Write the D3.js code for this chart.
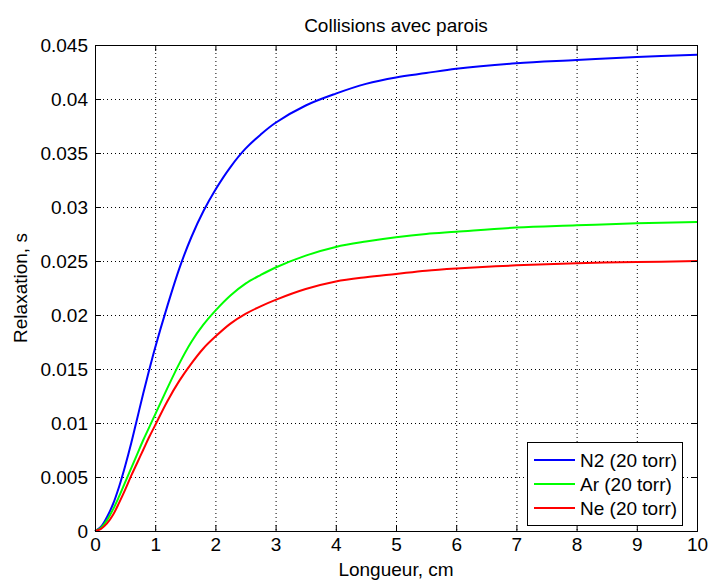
<!DOCTYPE html>
<html>
<head>
<meta charset="utf-8">
<script src="https://cdn.jsdelivr.net/npm/d3@7"></script>
<style>
  body { margin: 0; background: #fff; }
  svg { display: block; font-family: 'Liberation Sans', Arial, sans-serif; }
  .axis path, .axis line { stroke: #000; }
  .grid line { stroke: #000; stroke-dasharray: 1,3; }
</style>
</head>
<body>
<svg id="chart" width="710" height="581"></svg>
<script>
// distances (cm)
var longueur = [0, 0.1, 0.2, 0.3, 0.4, 0.5, 0.6, 0.7, 0.8, 0.9, 1.0, 1.2, 1.4, 1.6, 1.8, 2.0,
  2.25, 2.5, 2.75, 3.0, 3.5, 4, 4.5, 5, 5.5, 6, 7, 8, 9, 10];
// relaxation time (s) for each gas
var n2 = [0, 0.0004, 0.0013, 0.0025, 0.0041, 0.0060, 0.0081, 0.0104, 0.0127, 0.0149, 0.0170,
  0.0208, 0.0243, 0.0272, 0.0296, 0.0316, 0.0337, 0.0354, 0.0367, 0.0378, 0.0394, 0.0405,
  0.0414, 0.0420, 0.0424, 0.0428, 0.0433, 0.0436, 0.0439, 0.0441];
var ar = [0, 0.0003, 0.0010, 0.0020, 0.0032, 0.0045, 0.0058, 0.0071, 0.0084, 0.0096, 0.0108,
  0.0132, 0.0155, 0.0175, 0.0191, 0.0204, 0.0218, 0.0229, 0.0237, 0.0244, 0.0255, 0.0263,
  0.0268, 0.0272, 0.0275, 0.0277, 0.0281, 0.0283, 0.0285, 0.0286];
var ne = [0, 0.0002, 0.0007, 0.0015, 0.0026, 0.0038, 0.0051, 0.0063, 0.0075, 0.0087, 0.0098,
  0.0120, 0.0139, 0.0155, 0.0169, 0.0180, 0.0192, 0.0201, 0.0208, 0.0214, 0.0224, 0.0231,
  0.0235, 0.0238, 0.0241, 0.0243, 0.0246, 0.0248, 0.0249, 0.0250];
var seriesNames = ['N2 (20 torr)', 'Ar (20 torr)', 'Ne (20 torr)'];
var seriesColors = ['#0000ff', '#00ff00', '#ff0000'];
var xTicks = [0, 1, 2, 3, 4, 5, 6, 7, 8, 9, 10];
var yTicks = [0, 0.005, 0.01, 0.015, 0.02, 0.025, 0.03, 0.035, 0.04, 0.045];

var margin = { top: 45, right: 13, bottom: 50, left: 95 };
var width = 710 - margin.left - margin.right;   // 602
var height = 581 - margin.top - margin.bottom;  // 486

var svg = d3.select('#chart').append('g')
  .attr('transform', 'translate(' + margin.left + ',' + margin.top + ')');

var xScale = d3.scaleLinear().domain([0, 10]).range([0, width]);
var yScale = d3.scaleLinear().domain([0, 0.045]).range([height, 0]);

// dotted grid
var grid = svg.append('g').attr('class', 'grid');
grid.selectAll('.gx').data(xTicks.slice(1, -1)).enter().append('line')
  .attr('x1', function (d) { return xScale(d) + 0.5; })
  .attr('x2', function (d) { return xScale(d) + 0.5; })
  .attr('y1', 0).attr('y2', height);
grid.selectAll('.gy').data(yTicks.slice(1, -1)).enter().append('line')
  .attr('y1', function (d) { return yScale(d) + 0.5; })
  .attr('y2', function (d) { return yScale(d) + 0.5; })
  .attr('x1', 0).attr('x2', width);

// curves
var line = d3.line()
  .x(function (d) { return xScale(d[0]); })
  .y(function (d) { return yScale(d[1]); })
  .curve(d3.curveCatmullRom.alpha(0.5));

[n2, ar, ne].forEach(function (vals, i) {
  svg.append('path')
    .datum(longueur.map(function (x, j) { return [x, vals[j]]; }))
    .attr('fill', 'none')
    .attr('stroke', seriesColors[i])
    .attr('stroke-width', 2)
    .attr('d', line);
});

// axes with inward ticks, MATLAB style
var fmt = function (d) { return d3.format('')(+d.toFixed(3)); };
var xAxis = d3.axisBottom(xScale).tickValues(xTicks).tickSize(-6).tickPadding(7).tickFormat(fmt);
var yAxis = d3.axisLeft(yScale).tickValues(yTicks).tickSize(-6).tickPadding(7).tickFormat(fmt);

svg.append('g').attr('class', 'axis')
  .attr('transform', 'translate(0,' + height + ')')
  .call(xAxis)
  .call(function (g) { g.selectAll('text').style('font-size', '19px').attr('fill', '#000'); });
svg.append('g').attr('class', 'axis')
  .call(yAxis)
  .call(function (g) { g.selectAll('text').style('font-size', '19px').attr('fill', '#000'); });
svg.append('g').attr('class', 'axis')
  .call(d3.axisTop(xScale).tickValues(xTicks).tickSize(-6).tickFormat(''));
svg.append('g').attr('class', 'axis')
  .attr('transform', 'translate(' + width + ',0)')
  .call(d3.axisRight(yScale).tickValues(yTicks).tickSize(-6).tickFormat(''));

// labels
svg.append('text')
  .attr('x', width / 2).attr('y', -13)
  .attr('text-anchor', 'middle')
  .style('font-size', '19px')
  .text('Collisions avec parois');
svg.append('text')
  .attr('x', width / 2).attr('y', height + 45)
  .attr('text-anchor', 'middle')
  .style('font-size', '19px')
  .text('Longueur, cm');
svg.append('text')
  .attr('transform', 'rotate(-90)')
  .attr('x', -height / 2).attr('y', -68)
  .attr('text-anchor', 'middle')
  .style('font-size', '19px')
  .text('Relaxation, s');

// legend
var legend = svg.append('g').attr('transform', 'translate(' + (width - 170) + ',' + (height - 89) + ')');
legend.append('rect')
  .attr('x', 0.5).attr('y', 0.5).attr('width', 155).attr('height', 83)
  .attr('fill', '#fff').attr('stroke', '#000');
seriesNames.forEach(function (name, i) {
  var y = 18 + i * 24;
  legend.append('line')
    .attr('x1', 7).attr('x2', 48).attr('y1', y).attr('y2', y)
    .attr('stroke', seriesColors[i]).attr('stroke-width', 2);
  legend.append('text')
    .attr('x', 53).attr('y', y + 7)
    .style('font-size', '19px')
    .text(name);
});
</script>
</body>
</html>
